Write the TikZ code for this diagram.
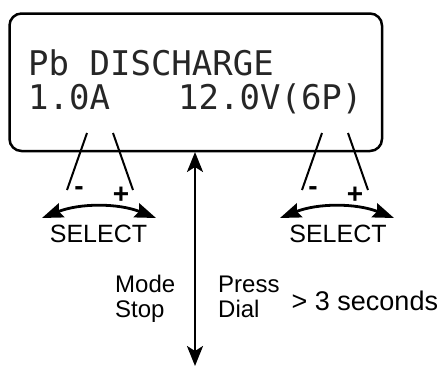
\documentclass[tikz,border=0pt]{standalone}
\usepackage{fontspec}
\setmainfont{Liberation Sans}
\newfontfamily\lcdfont{DejaVu Sans Mono}
\usetikzlibrary{arrows.meta}
\tikzset{
  lcd/.style={inner sep=0pt, anchor=base west, text=black!85, font=\lcdfont\fontsize{34}{34}\selectfont},
  lbl/.style={inner sep=0pt, font=\fontsize{24}{24}\selectfont},
  sel/.style={inner sep=0pt, anchor=base, font=\fontsize{25}{25}\selectfont},
  pm/.style={inner sep=0pt, anchor=base, font=\bfseries\fontsize{28}{28}\selectfont},
  pointer/.style={line width=2pt},
  selhead/.tip={Stealth[length=21pt,width=15pt,inset=3pt]},
  modehead/.tip={Stealth[length=20pt,width=16pt,inset=5pt]},
  selarrow/.style={line width=2.8pt, selhead-selhead},
  modearrow/.style={line width=2.4pt, modehead-modehead}
}
\begin{document}
\begin{tikzpicture}[x=1pt,y=-1pt]
\useasboundingbox (0,0) rectangle (443,367);
% display
\draw[line width=2.5pt, rounded corners=12pt] (9.5,13.5) rectangle (382,151);
\node[lcd] (l1) at (28,75) {Pb DISCHARGE};
\node[lcd] (cur) at (28,109) {1.0A};
\node[lcd] (volt) at (178,109) {12.0V(6P)};
% left selector
\coordinate (la1) at (87,133); \coordinate (lb1) at (67,190);
\coordinate (la2) at (113,133); \coordinate (lb2) at (133,190);
\draw[pointer] (la1) -- (lb1);
\draw[pointer] (la2) -- (lb2);
\node[pm] (lm) at (79,195) {-};
\node[pm] (lp) at (121,203) {+};
\coordinate (lsA) at (42,218); \coordinate (lsB) at (156,218);
\draw[selarrow] (lsA) .. controls (80,203) and (118,203) .. (lsB);
\node[sel] (lsel) at (98.5,242) {SELECT};
% right selector
\coordinate (ra1) at (322,133); \coordinate (rb1) at (302,190);
\coordinate (ra2) at (348,133); \coordinate (rb2) at (368,190);
\draw[pointer] (ra1) -- (rb1);
\draw[pointer] (ra2) -- (rb2);
\node[pm] (rm) at (313,195) {-};
\node[pm] (rp) at (355,203) {+};
\coordinate (rsA) at (280,218); \coordinate (rsB) at (394,218);
\draw[selarrow] (rsA) .. controls (318,203) and (356,203) .. (rsB);
\node[sel] (rsel) at (338,242) {SELECT};
% mode arrow
\coordinate (mtop) at (195,152);
\coordinate (mbot) at (195,366);
\draw[modearrow] (mtop) -- (mbot);
\node[lbl, anchor=base west] (mode) at (115,292) {Mode};
\node[lbl, anchor=base west] (stop) at (115,317) {Stop};
\node[lbl, anchor=base west] (press) at (218,292) {Press};
\node[lbl, anchor=base west] (dial) at (218,317) {Dial};
\node[inner sep=0pt, anchor=base west, font=\fontsize{27}{27}\selectfont] (sec) at (291.5,310) {> 3 seconds};
\end{tikzpicture}
\end{document}
